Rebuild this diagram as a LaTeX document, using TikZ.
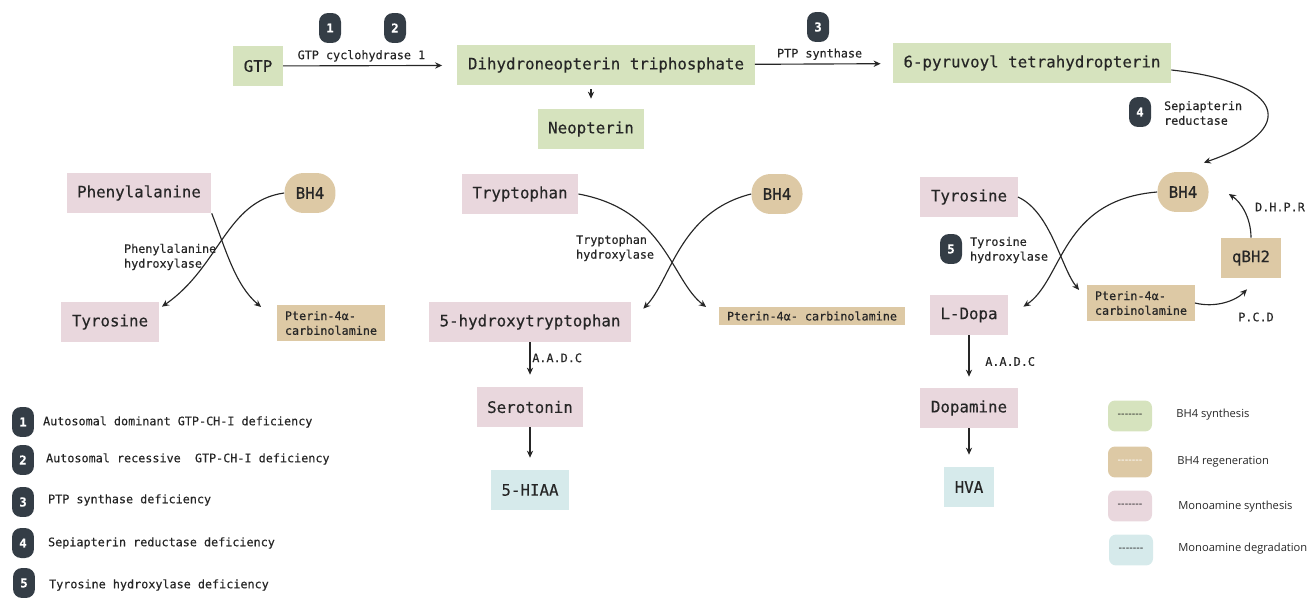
\documentclass[tikz,border=0pt]{standalone}
\usepackage{fontspec}
\setmainfont{Open Sans}
\setmonofont{DejaVu Sans Mono}[FakeBold=0.3]
\usetikzlibrary{arrows.meta,calc}

\definecolor{synthgreen}{RGB}{214,227,190}
\definecolor{regentan}{RGB}{221,201,165}
\definecolor{monopink}{RGB}{233,215,221}
\definecolor{degradcyan}{RGB}{214,234,235}
\definecolor{badgegray}{RGB}{52,61,70}
\definecolor{inkgray}{RGB}{38,38,38}

\begin{document}
\begin{tikzpicture}[x=0.02cm,y=0.02cm,
  font=\ttfamily\fontsize{9}{11}\selectfont, text=inkgray,
  box/.style={rectangle, minimum height=0.8cm, inner xsep=0.21cm, inner ysep=0pt},
  synth/.style={box, fill=synthgreen},
  mono/.style={box, fill=monopink},
  degr/.style={box, fill=degradcyan},
  regen/.style={box, fill=regentan},
  cofactor/.style={regen, rounded corners=0.38cm, minimum width=1.02cm, inner xsep=0pt},
  pterin/.style={rectangle, fill=regentan, inner xsep=0.15cm, inner ysep=0.12cm, align=left,
    font=\ttfamily\fontsize{6.7}{8.4}\selectfont},
  enzyme/.style={font=\ttfamily\fontsize{6.7}{8.4}\selectfont, align=left, inner sep=1pt},
  badge/.style={rectangle, rounded corners=0.18cm, fill=badgegray, text=white,
    minimum width=0.44cm, minimum height=0.6cm, inner sep=0pt,
    font=\ttfamily\bfseries\fontsize{7}{8}\selectfont},
  arr/.style={draw=inkgray, line width=0.65pt, -{Stealth[length=4pt,width=3.6pt]}},
  key/.style={rectangle, rounded corners=0.14cm, minimum width=0.88cm, minimum height=0.62cm,
    inner sep=0pt, font=\rmfamily\fontsize{6.2}{7}\selectfont},
  keytext/.style={anchor=west, inner sep=0pt, font=\rmfamily\fontsize{6.35}{7.5}\selectfont}
]
\useasboundingbox (0,0) rectangle (1316,-598);

% BH4 synthesis row
\node[synth] (gtp) at (258,-66) {GTP};
\node[synth] (dhn) at (606,-65) {Dihydroneopterin triphosphate};
\node[synth] (neo) at (591,-129) {Neopterin};
\node[synth] (ptp) at (1032,-63) {6-pyruvoyl tetrahydropterin};

\node[badge] (b1) at (330,-28) {1};
\node[badge] (b2) at (395,-28) {2};
\node[badge] (b3) at (818,-27) {3};
\node[badge] (b4) at (1140,-112) {4};
\node[enzyme, anchor=west] (spr) at (1162,-113) {Sepiapterin\\reductase};

\draw[arr, shorten >=0.3cm] (gtp) -- node[enzyme, above=1pt, pos=0.45] (gch) {GTP cyclohydrase 1} (dhn);
\draw[arr, shorten >=0.24cm] (dhn) -- node[enzyme, above=1pt, pos=0.47] (ptps) {PTP synthase} (ptp);
\draw[arr, shorten <=0.08cm, shorten >=0.2cm] (dhn.south -| neo) -- (neo);

% Phenylalanine
\node[mono] (phe) at (139,-193) {Phenylalanine};
\node[cofactor] (bh4a) at (310,-193) {BH4};
\node[mono] (tyra) at (110,-322) {Tyrosine};
\node[pterin] (pcaa) at (331,-323) {Pterin-4α-\\carbinolamine};
\node[enzyme, anchor=west] (pah) at (122,-257) {Phenylalanine\\hydroxylase};

\draw[arr] (phe.south east) .. controls +(14,-36) and +(-26,22) .. ($(pcaa.west)+(-16,16)$);
\draw[arr] (bh4a.west) .. controls +(-58,-8) and +(58,40) .. ($(tyra.north east)+(3,-5)$);

% Tryptophan
\node[mono] (trp) at (520,-194) {Tryptophan};
\node[cofactor] (bh4b) at (777,-194) {BH4};
\node[mono] (htp) at (530,-322) {5-hydroxytryptophan};
\node[pterin, inner ysep=0.08cm] (pcab) at (812,-316) {Pterin-4α- carbinolamine};
\node[enzyme, anchor=west] (tph) at (574,-248) {Tryptophan\\hydroxylase};
\node[mono] (ser) at (530,-407) {Serotonin};
\node[degr] (hiaa) at (530,-490) {5-HIAA};

\draw[arr] (trp.east) .. controls +(87,-16) and +(-35,27) .. ($(pcab.west)+(-13,9)$);
\draw[arr] (bh4b.west) .. controls +(-72,-18) and +(28,29) .. ($(htp.north east)+(12,-7)$);
\draw[arr, shorten >=0.24cm] (htp) -- node[enzyme, right, pos=0.35] (aadca) {A.A.D.C} (ser);
\draw[arr, shorten >=0.24cm] (ser) -- (hiaa);

% Tyrosine
\node[mono] (tyrb) at (969,-197) {Tyrosine};
\node[cofactor] (bh4c) at (1183,-192) {BH4};
\node[mono] (ldopa) at (969,-315) {L-Dopa};
\node[pterin] (pcac) at (1141,-303) {Pterin-4α-\\carbinolamine};
\node[regen] (qbh) at (1251,-258) {qBH2};
\node[badge] (b5) at (951,-249) {5};
\node[enzyme, anchor=west] (th) at (968,-250) {Tyrosine\\hydroxylase};
\node[enzyme] (dhpr) at (1280,-207) {D.H.P.R};
\node[enzyme] (pcd) at (1256,-317) {P.C.D};
\node[mono] (dopa) at (969,-408) {Dopamine};
\node[degr] (hva) at (969,-487) {HVA};

\draw[arr] ($(ptp.east)+(0,-7)$) .. controls +(113,-12) and +(97,33) .. ($(bh4c.north east)+(-5,9)$);
\draw[arr] (tyrb.east) .. controls +(33,-15) and +(-18,22) .. ($(pcac.west)+(-8,13)$);
\draw[arr] (bh4c.west) .. controls +(-97,-8) and +(40,27) .. ($(ldopa.north east)+(15,-12)$);
\draw[arr] (pcac.east) .. controls +(20,-5) and +(-12,-12) .. ($(qbh.south)+(-4,-11)$);
\draw[arr] (qbh.north) .. controls +(0,20) and +(12,-8) .. ($(bh4c.east)+(20,-2)$);
\draw[arr, shorten >=0.22cm] (ldopa) -- node[enzyme, right=0.28cm] (aadcb) {A.A.D.C} (dopa);
\draw[arr, shorten >=0.24cm] (dopa) -- (hva);

% Deficiencies
\node[badge] (d1) at (23,-422) {1};
\node[badge] (d2) at (23,-460) {2};
\node[badge] (d3) at (23,-502) {3};
\node[badge] (d4) at (23,-543) {4};
\node[badge] (d5) at (24,-583) {5};
\node[enzyme, anchor=west] (dt1) at (41,-422) {Autosomal dominant GTP-CH-I deficiency};
\node[enzyme, anchor=west] (dt2) at (44,-459) {Autosomal recessive\ \ GTP-CH-I deficiency};
\node[enzyme, anchor=west] (dt3) at (46,-500) {PTP synthase deficiency};
\node[enzyme, anchor=west] (dt4) at (46,-543) {Sepiapterin reductase deficiency};
\node[enzyme, anchor=west] (dt5) at (47,-585) {Tyrosine hydroxylase deficiency};

% Colour key
\node[key, fill=synthgreen] (k1) at (1130,-416) {{-}{-}{-}{-}{-}{-}{-}};
\node[key, fill=regentan, text=white] (k2) at (1130,-462) {{-}{-}{-}{-}{-}{-}{-}};
\node[key, fill=monopink] (k3) at (1130,-506) {{-}{-}{-}{-}{-}{-}{-}};
\node[key, fill=degradcyan] (k4) at (1131,-550) {{-}{-}{-}{-}{-}{-}{-}};
\node[keytext] (kt1) at (1176,-415) {BH4 synthesis};
\node[keytext] (kt2) at (1177,-462) {BH4 regeneration};
\node[keytext] (kt3) at (1178,-507) {Monoamine synthesis};
\node[keytext] (kt4) at (1178,-549) {Monoamine degradation};

\end{tikzpicture}
\end{document}
